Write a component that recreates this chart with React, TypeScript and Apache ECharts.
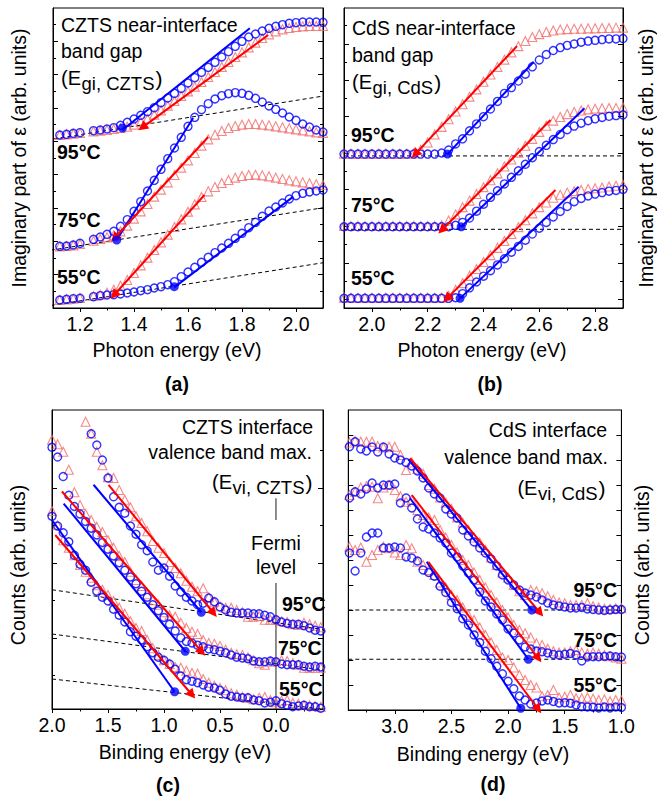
import React, { useEffect, useRef } from "react";
import * as echarts from "echarts";

const FONT = '"Liberation Sans", Arial, Helvetica, sans-serif';
const FS = 19.5;
const SUBFS = 18.5;
const BLUE = "#0000ff";
const RED = "#ff0000";
const PINK = "#f36b6b";

// ---------- Panel (a): CZTS near-interface band gap ----------
const A_E = [1.125, 1.15, 1.175, 1.2, 1.25, 1.275, 1.3, 1.325, 1.35, 1.375, 1.4, 1.425, 1.45, 1.475, 1.5, 1.525, 1.55, 1.575, 1.6, 1.625, 1.65, 1.675, 1.7, 1.725, 1.75, 1.775, 1.8, 1.825, 1.85, 1.875, 1.9, 1.925, 1.95, 1.975, 2.0, 2.025, 2.05, 2.075, 2.1];
const A95c = [5.19, 5.21, 5.24, 5.26, 5.32, 5.34, 5.37, 5.41, 5.48, 5.57, 5.67, 5.78, 5.89, 6.01, 6.16, 6.30, 6.44, 6.59, 6.75, 6.91, 7.07, 7.22, 7.37, 7.53, 7.69, 7.85, 8.00, 8.13, 8.22, 8.31, 8.39, 8.45, 8.50, 8.54, 8.56, 8.58, 8.58, 8.58, 8.57];
const A95t = [5.19, 5.21, 5.23, 5.25, 5.30, 5.32, 5.34, 5.37, 5.40, 5.44, 5.50, 5.58, 5.68, 5.80, 5.93, 6.07, 6.21, 6.36, 6.50, 6.64, 6.78, 6.93, 7.08, 7.23, 7.38, 7.53, 7.67, 7.82, 7.96, 8.10, 8.21, 8.30, 8.36, 8.40, 8.43, 8.45, 8.46, 8.46, 8.46];
const A75c = [1.85, 1.86, 1.89, 1.94, 2.06, 2.13, 2.21, 2.30, 2.45, 2.65, 2.90, 3.19, 3.51, 3.83, 4.16, 4.48, 4.80, 5.12, 5.45, 5.72, 5.95, 6.13, 6.27, 6.37, 6.43, 6.46, 6.44, 6.38, 6.29, 6.18, 6.06, 5.96, 5.85, 5.73, 5.63, 5.52, 5.43, 5.34, 5.28];
const A75t = [1.85, 1.86, 1.88, 1.92, 2.02, 2.07, 2.12, 2.18, 2.30, 2.47, 2.68, 2.90, 3.12, 3.34, 3.55, 3.77, 3.99, 4.21, 4.43, 4.65, 4.87, 5.06, 5.20, 5.31, 5.40, 5.46, 5.50, 5.52, 5.52, 5.50, 5.48, 5.45, 5.42, 5.39, 5.36, 5.33, 5.30, 5.27, 5.25];
const A55c = [0.24, 0.26, 0.28, 0.29, 0.34, 0.37, 0.39, 0.40, 0.42, 0.45, 0.48, 0.52, 0.55, 0.60, 0.64, 0.70, 0.79, 0.94, 1.08, 1.22, 1.37, 1.52, 1.66, 1.80, 1.94, 2.09, 2.24, 2.41, 2.57, 2.75, 2.91, 3.03, 3.15, 3.27, 3.37, 3.44, 3.48, 3.51, 3.54];
const A55t = [0.24, 0.26, 0.28, 0.30, 0.36, 0.40, 0.46, 0.55, 0.67, 0.84, 1.05, 1.28, 1.51, 1.74, 1.97, 2.20, 2.43, 2.66, 2.89, 3.11, 3.33, 3.50, 3.63, 3.75, 3.84, 3.91, 3.96, 3.99, 4.00, 3.98, 3.95, 3.91, 3.87, 3.83, 3.80, 3.77, 3.74, 3.71, 3.69];
const A_FIT_BLUE = [[1.357, 5.34, 1.829, 8.39], [1.336, 2.04, 1.619, 5.70], [1.549, 0.62, 1.990, 3.34]];
const A_FIT_RED = [[1.897, 8.19, 1.431, 5.42], [1.675, 5.13, 1.328, 2.10], [1.661, 3.39, 1.326, 0.39]];
const A_BASE = [[1.0, 4.94, 2.11, 6.37], [1.04, 1.67, 2.11, 3.02], [1.04, 0.01, 2.11, 1.37]];
const A_DOTS = [[1.357, 5.40], [1.336, 2.04], [1.549, 0.64]];
const A_X_MAJOR = [1.2, 1.4, 1.6, 1.8, 2.0];
const A_X_MINOR = [1.3, 1.5, 1.7, 1.9];
const A_Y_MAJOR = [1, 2, 3, 4, 5, 6, 7, 8];
const A_Y_MINOR = [0.5, 1.5, 2.5, 3.5, 4.5, 5.5, 6.5, 7.5, 8.5];

// ---------- Panel (b): CdS near-interface band gap ----------
const B_E = [1.9, 1.925, 1.95, 1.975, 2.0, 2.025, 2.05, 2.075, 2.1, 2.125, 2.15, 2.175, 2.2, 2.225, 2.25, 2.275, 2.3, 2.325, 2.35, 2.375, 2.4, 2.425, 2.45, 2.475, 2.5, 2.525, 2.55, 2.575, 2.6, 2.625, 2.65, 2.675, 2.7, 2.725, 2.75, 2.775, 2.8, 2.825, 2.85, 2.875, 2.9];
const B95c = [4.18, 4.18, 4.18, 4.18, 4.18, 4.18, 4.18, 4.18, 4.18, 4.18, 4.18, 4.18, 4.18, 4.18, 4.21, 4.29, 4.46, 4.60, 4.82, 5.01, 5.21, 5.42, 5.63, 5.85, 6.01, 6.19, 6.38, 6.58, 6.77, 6.92, 7.03, 7.11, 7.17, 7.21, 7.26, 7.29, 7.31, 7.33, 7.35, 7.35, 7.36];
const B95t = [4.19, 4.19, 4.19, 4.19, 4.19, 4.19, 4.19, 4.19, 4.19, 4.19, 4.20, 4.30, 4.50, 4.72, 4.93, 5.14, 5.35, 5.55, 5.76, 5.96, 6.17, 6.37, 6.58, 6.78, 6.98, 7.15, 7.29, 7.40, 7.48, 7.54, 7.58, 7.61, 7.62, 7.63, 7.63, 7.64, 7.64, 7.65, 7.65, 7.66, 7.66];
const B75c = [2.18, 2.18, 2.18, 2.18, 2.18, 2.18, 2.18, 2.18, 2.18, 2.18, 2.18, 2.18, 2.18, 2.18, 2.18, 2.18, 2.22, 2.30, 2.42, 2.61, 2.80, 2.99, 3.17, 3.36, 3.54, 3.72, 3.90, 4.08, 4.25, 4.42, 4.58, 4.72, 4.85, 4.95, 5.03, 5.10, 5.15, 5.19, 5.22, 5.24, 5.26];
const B75t = [2.20, 2.20, 2.20, 2.20, 2.20, 2.20, 2.20, 2.20, 2.20, 2.20, 2.20, 2.20, 2.20, 2.20, 2.22, 2.35, 2.52, 2.72, 2.90, 3.08, 3.27, 3.46, 3.65, 3.84, 4.03, 4.22, 4.41, 4.60, 4.79, 4.96, 5.10, 5.20, 5.28, 5.34, 5.38, 5.41, 5.43, 5.44, 5.45, 5.45, 5.46];
const B55c = [0.21, 0.21, 0.21, 0.21, 0.21, 0.21, 0.21, 0.21, 0.21, 0.21, 0.21, 0.21, 0.21, 0.21, 0.21, 0.21, 0.23, 0.34, 0.50, 0.66, 0.82, 0.97, 1.13, 1.30, 1.48, 1.64, 1.81, 1.98, 2.14, 2.30, 2.45, 2.60, 2.74, 2.87, 2.96, 3.03, 3.08, 3.12, 3.16, 3.18, 3.21];
const B55t = [0.23, 0.23, 0.23, 0.23, 0.23, 0.23, 0.23, 0.23, 0.23, 0.23, 0.23, 0.23, 0.23, 0.23, 0.23, 0.28, 0.44, 0.63, 0.83, 1.02, 1.21, 1.40, 1.60, 1.79, 1.98, 2.17, 2.36, 2.55, 2.72, 2.85, 2.98, 3.06, 3.12, 3.16, 3.19, 3.22, 3.24, 3.26, 3.29, 3.31, 3.33];
const B_FIT_BLUE = [[2.271, 4.18, 2.580, 6.72], [2.320, 2.18, 2.762, 5.44], [2.316, 0.21, 2.741, 3.28]];
const B_FIT_RED = [[2.520, 7.15, 2.155, 4.18], [2.640, 5.12, 2.251, 2.09], [2.658, 3.19, 2.269, 0.21]];
const B_BASE = [[1.9, 4.13, 2.9, 4.13], [1.9, 2.11, 2.9, 2.11]];
const B_DOTS = [[2.271, 4.18], [2.320, 2.18], [2.316, 0.21]];
const B_X_MAJOR = [2.0, 2.2, 2.4, 2.6, 2.8];
const B_X_MINOR = [2.1, 2.3, 2.5, 2.7];
const B_Y_MAJOR = [0.18, 1.19, 2.19, 3.2, 4.2, 5.21, 6.21, 7.21];
const B_Y_MINOR = [0.69, 1.69, 2.7, 3.7, 4.71, 5.71, 6.71, 7.72];

// ---------- Panel (c): CZTS interface valence band max ----------
const C_E = [2.0, 1.95, 1.9, 1.85, 1.8, 1.75, 1.7, 1.65, 1.6, 1.55, 1.5, 1.45, 1.4, 1.35, 1.3, 1.25, 1.2, 1.15, 1.1, 1.05, 1.0, 0.95, 0.9, 0.85, 0.8, 0.75, 0.7, 0.65, 0.6, 0.55, 0.5, 0.45, 0.4, 0.35, 0.3, 0.25, 0.2, 0.15, 0.1, 0.05, 0.0, -0.05, -0.1, -0.15, -0.2, -0.25, -0.3, -0.35, -0.4];
const C95c = [null, null, null, null, null, null, null, 3.67, 3.52, 3.32, 3.08, 2.83, 2.69, 2.61, 2.44, 2.33, 2.19, 2.11, 1.96, 1.85, 1.88, 1.77, 1.64, 1.56, 1.49, 1.44, 1.39, 1.41, 1.48, 1.43, 1.36, 1.32, 1.29, 1.28, 1.28, 1.28, 1.27, 1.27, 1.25, 1.23, 1.19, 1.16, 1.14, 1.13, 1.13, 1.11, 1.08, 1.05, 1.04];
const C95t = [null, null, null, null, null, null, 3.83, 3.67, 3.43, 3.25, 3.09, 3.08, 2.92, 2.79, 2.69, 2.57, 2.48, 2.37, 2.24, 2.15, 2.08, 1.96, 1.88, 1.81, 1.71, 1.63, 1.57, 1.61, 1.49, 1.43, 1.37, 1.35, 1.35, 1.32, 1.29, 1.23, 1.23, 1.24, 1.19, 1.19, 1.19, 1.17, 1.16, 1.13, 1.12, 1.15, 1.13, 1.11, 1.09];
const C75c = [3.49, 3.36, 3.10, 2.85, 2.70, 2.60, 2.50, 2.41, 2.32, 2.22, 2.13, 2.04, 1.95, 1.85, 1.76, 1.67, 1.57, 1.49, 1.39, 1.31, 1.22, 1.13, 1.04, 0.95, 0.90, 0.88, 0.85, 0.83, 0.80, 0.79, 0.77, 0.75, 0.72, 0.69, 0.68, 0.67, 0.64, 0.63, 0.63, 0.64, 0.63, 0.60, 0.59, 0.59, 0.59, 0.57, 0.56, 0.57, 0.56];
const C75t = [3.59, 3.53, 3.43, 3.19, 2.89, 2.72, 2.60, 2.52, 2.43, 2.36, 2.25, 2.15, 2.04, 1.96, 1.83, 1.72, 1.64, 1.53, 1.45, 1.39, 1.29, 1.25, 1.23, 1.15, 1.08, 1.03, 1.00, 0.92, 0.88, 0.87, 0.84, 0.79, 0.75, 0.73, 0.72, 0.69, 0.65, 0.61, 0.59, 0.63, 0.64, 0.65, 0.64, 0.61, 0.59, 0.55, 0.55, 0.55, 0.55];
const C55c = [2.57, 2.44, 2.35, 2.23, 2.05, 1.93, 1.85, 1.69, 1.57, 1.49, 1.44, 1.33, 1.25, 1.16, 1.03, 0.97, 0.92, 0.83, 0.75, 0.69, 0.65, 0.60, 0.53, 0.44, 0.39, 0.37, 0.35, 0.32, 0.29, 0.28, 0.25, 0.20, 0.17, 0.16, 0.15, 0.15, 0.12, 0.11, 0.08, 0.09, 0.11, 0.07, 0.05, 0.03, 0.04, 0.05, 0.03, 0.03, 0.01];
const C55t = [2.64, 2.45, 2.25, 2.15, 2.05, 1.92, 1.83, 1.75, 1.65, 1.59, 1.52, 1.44, 1.35, 1.27, 1.17, 1.08, 1.04, 0.92, 0.81, 0.72, 0.65, 0.60, 0.56, 0.55, 0.51, 0.48, 0.47, 0.40, 0.35, 0.31, 0.28, 0.25, 0.21, 0.19, 0.16, 0.15, 0.13, 0.15, 0.16, 0.12, 0.09, 0.11, 0.12, 0.08, 0.07, 0.05, 0.05, 0.04, 0.03];
const C_FIT_BLUE = [[1.629, 2.99, 0.667, 1.29], [1.896, 2.74, 0.810, 0.77], [2.0, 2.52, 0.905, 0.23]];
const C_FIT_RED = [[1.495, 2.99, 0.557, 1.28], [1.911, 2.90, 0.661, 0.76], [1.971, 2.32, 0.750, 0.19]];
const C_BASE = [[2.0, 1.59, -0.42, 1.06], [2.0, 1.00, -0.42, 0.52], [2.0, 0.40, -0.42, 0.0]];
const C_DOTS = [[0.667, 1.29], [0.810, 0.77], [0.905, 0.23]];
const C_FERMI = [[0, 0, 0, 1.68], [0, 2.52, 0, 2.81]];
const C_X_MAJOR = [2.0, 1.5, 1.0, 0.5, 0.0];
const C_X_MINOR = [1.75, 1.25, 0.75, 0.25, -0.25];
const C_Y_MAJOR = [0.95, 1.95, 2.95];
const C_Y_MINOR = [0.45, 1.45, 2.45, 3.45];

// ---------- Panel (d): CdS interface valence band max ----------
const D_E = [3.4, 3.35, 3.3, 3.25, 3.2, 3.15, 3.1, 3.05, 3.0, 2.95, 2.9, 2.85, 2.8, 2.75, 2.7, 2.65, 2.6, 2.55, 2.5, 2.45, 2.4, 2.35, 2.3, 2.25, 2.2, 2.15, 2.1, 2.05, 2.0, 1.95, 1.9, 1.85, 1.8, 1.75, 1.7, 1.65, 1.6, 1.55, 1.5, 1.45, 1.4, 1.35, 1.3, 1.25, 1.2, 1.15, 1.1, 1.05, 1.0];
const D95c = [10.53, 10.73, 10.44, 10.36, 10.52, 10.32, 10.52, 10.24, 10.08, 10.00, 9.90, 9.76, 9.56, 9.28, 8.88, 8.64, 8.48, 8.04, 7.84, 7.68, 7.20, 6.96, 6.72, 6.48, 6.28, 6.04, 5.76, 5.40, 5.20, 5.00, 4.80, 4.68, 4.60, 4.52, 4.40, 4.28, 4.20, 4.16, 4.12, 4.08, 4.08, 4.10, 4.04, 4.02, 4.00, 3.98, 4.00, 4.02, 4.02];
const D95t = [10.70, 10.77, 10.73, 10.73, 10.73, 10.56, 10.50, 10.53, 10.53, 10.20, 9.60, 9.90, 9.65, 9.45, 9.00, 8.85, 8.50, 8.30, 8.04, 7.70, 7.50, 7.20, 6.90, 6.70, 6.40, 6.10, 5.80, 5.50, 5.30, 5.00, 4.75, 4.60, 4.80, 4.75, 4.67, 4.55, 4.40, 4.30, 4.27, 4.20, 4.20, 4.20, 4.27, 4.15, 4.10, 4.05, 4.05, 4.07, 4.07];
const D75c = [8.48, 8.73, 8.64, 8.84, 9.08, 8.88, 9.00, 9.00, 9.04, 8.28, 8.48, 8.08, 7.64, 7.32, 7.24, 7.08, 6.88, 6.68, 6.28, 6.12, 5.76, 5.48, 5.20, 4.72, 4.36, 4.12, 3.84, 3.60, 3.24, 3.08, 2.80, 2.52, 2.44, 2.36, 2.33, 2.28, 2.22, 2.20, 2.23, 2.26, 2.20, 1.96, 2.12, 2.13, 2.13, 2.14, 2.16, 2.13, 2.12];
const D75t = [8.60, 8.73, 8.90, 8.95, 8.93, 8.47, 8.90, 9.00, 8.80, 8.55, 8.33, 8.40, 8.00, 7.80, 7.70, 7.60, 7.20, 6.90, 6.60, 6.30, 6.00, 5.80, 5.50, 5.20, 4.90, 4.60, 4.30, 4.00, 3.70, 3.40, 3.20, 3.07, 2.90, 2.67, 2.60, 2.45, 2.35, 2.30, 2.30, 2.35, 2.40, 2.30, 2.25, 2.30, 2.25, 2.20, 2.15, 2.10, 2.05];
const D55c = [6.28, 5.56, 6.28, 6.92, 7.08, 7.08, 6.48, 6.48, 6.52, 6.48, 6.12, 6.08, 5.96, 5.60, 5.50, 5.35, 4.95, 4.70, 4.30, 4.05, 3.65, 3.40, 3.00, 2.70, 2.35, 2.05, 1.75, 1.45, 1.15, 0.85, 0.56, 0.40, 0.24, 0.28, 0.36, 0.40, 0.34, 0.28, 0.29, 0.27, 0.20, 0.13, 0.12, 0.11, 0.08, 0.12, 0.08, 0.12, 0.10];
const D55t = [6.53, 6.40, 6.50, 5.93, 6.20, 6.40, 6.53, 6.47, 6.30, 6.20, 6.60, 6.47, 5.93, 5.80, 5.60, 5.40, 5.10, 4.90, 4.60, 4.40, 4.10, 3.80, 3.60, 3.30, 3.00, 2.70, 2.40, 2.10, 2.00, 1.70, 1.40, 1.20, 1.00, 0.90, 0.55, 0.60, 0.80, 0.50, 0.53, 0.60, 0.47, 0.47, 0.50, 0.45, 0.40, 0.42, 0.35, 0.40, 0.38];
const D_FIT_BLUE = [[2.880, 10.03, 1.791, 4.0], [2.865, 8.47, 1.821, 2.03], [2.718, 5.93, 1.888, 0.07]];
const D_FIT_RED = [[2.865, 10.07, 1.718, 3.89], [2.850, 8.60, 1.733, 2.07], [2.704, 5.93, 1.733, 0.03]];
const D_BASE = [[3.41, 4.0, 1.0, 4.0], [3.41, 2.03, 1.0, 2.03]];
const D_DOTS = [[1.791, 4.0], [1.821, 2.03], [1.888, 0.07]];
const D_X_MAJOR = [3.0, 2.5, 2.0, 1.5, 1.0];
const D_X_MINOR = [3.25, 2.75, 2.25, 1.75, 1.25];
const D_Y_MAJOR = [1, 2, 3, 4, 5, 6, 7, 8, 9, 10, 11];

// ---------- helpers ----------
let measureCtx: CanvasRenderingContext2D | null = null;
function textWidth(t: string, size: number, weight = "normal") {
  if (!measureCtx) {
    const c = document.createElement("canvas");
    measureCtx = c.getContext("2d");
  }
  if (!measureCtx) return t.length * size * 0.55;
  measureCtx.font = `${weight} ${size}px ${FONT}`;
  return measureCtx.measureText(t).width;
}

function T(text: string, x: number, y: number, o: any = {}) {
  return {
    type: "text",
    x,
    y,
    rotation: o.rotation || 0,
    silent: true,
    z: 100,
    style: {
      text,
      fill: "#000",
      fontFamily: FONT,
      fontSize: o.size || FS,
      fontWeight: o.bold ? "bold" : "normal",
      align: o.align || "left",
      verticalAlign: "middle",
    },
  };
}

function subLabel(x: number, y: number, sub: string, right: boolean) {
  const w1 = textWidth("(E", FS + 0.5);
  const w2 = textWidth(sub, SUBFS);
  const w3 = textWidth(")", FS + 1.5);
  const total = w1 + w2 + w3 + 2;
  const x0 = right ? x - total : x;
  return [
    T("(E", x0, y, { size: FS + 0.5 }),
    T(sub, x0 + w1 + 0.5, y + 5, { size: SUBFS }),
    T(")", x0 + w1 + w2 + 1.5, y, { size: FS + 1.5 }),
  ];
}

const fmt = (v: number) => (Math.abs(v) < 1e-9 ? 0 : v).toFixed(1);

function xAxes(gi: number, min: number, max: number, inverse: boolean, majors: number[], minors: number[]) {
  const base = { type: "value", gridIndex: gi, min, max, inverse, position: "bottom", splitLine: { show: false } };
  return [
    {
      ...base,
      axisLine: { show: true, onZero: false, lineStyle: { color: "#000", width: 1 } },
      axisTick: { show: true, inside: false, length: 4, customValues: majors, lineStyle: { color: "#000", width: 1 } },
      axisLabel: { show: true, customValues: majors, formatter: fmt, color: "#000", fontSize: FS, fontFamily: FONT, margin: 6 },
    },
    {
      ...base,
      axisLine: { show: false, onZero: false },
      axisTick: { show: true, inside: false, length: 2.5, customValues: minors, lineStyle: { color: "#000", width: 1 } },
      axisLabel: { show: false },
    },
  ];
}

function yAxes(gi: number, min: number, max: number, majors: number[], minors: number[]) {
  const mk = (pos: string, vals: number[], len: number, line: boolean) => ({
    type: "value",
    gridIndex: gi,
    min,
    max,
    position: pos,
    splitLine: { show: false },
    axisLine: { show: line, onZero: false, lineStyle: { color: "#000", width: 1 } },
    axisTick: { show: vals.length > 0, inside: true, length: len, customValues: vals, lineStyle: { color: "#000", width: 1 } },
    axisLabel: { show: false },
  });
  return [mk("left", majors, 5, true), mk("left", minors, 3, false), mk("right", majors, 5, true), mk("right", minors, 3, false)];
}

function scatter(gi: number, E: number[], Y: (number | null)[], circle: boolean) {
  const data: number[][] = [];
  E.forEach((e, i) => {
    const v = Y[i];
    if (v !== null && v !== undefined) data.push([e, v]);
  });
  return {
    type: "scatter",
    xAxisIndex: gi * 2,
    yAxisIndex: gi * 4,
    data,
    symbol: circle ? "circle" : "triangle",
    symbolSize: circle ? 8 : 9,
    itemStyle: { color: "transparent", borderColor: circle ? BLUE : PINK, borderWidth: circle ? 1.4 : 1.1 },
    silent: true,
    z: circle ? 3 : 2,
  };
}

function segLine(gi: number, s: number[], style: any, z: number, clip = true) {
  return {
    type: "line",
    xAxisIndex: gi * 2,
    yAxisIndex: gi * 4,
    data: [[s[0], s[1]], [s[2], s[3]]],
    symbol: "none",
    showSymbol: false,
    lineStyle: style,
    silent: true,
    clip,
    z,
  };
}

function arrows(gi: number, segs: number[][]) {
  return {
    type: "lines",
    coordinateSystem: "cartesian2d",
    xAxisIndex: gi * 2,
    yAxisIndex: gi * 4,
    data: segs.map((s) => ({ coords: [[s[0], s[1]], [s[2], s[3]]] })),
    symbol: ["none", "triangle"],
    symbolSize: 10,
    lineStyle: { color: RED, width: 2, opacity: 1 },
    silent: true,
    clip: false,
    z: 6,
  };
}

function dots(gi: number, pts: number[][]) {
  return {
    type: "scatter",
    xAxisIndex: gi * 2,
    yAxisIndex: gi * 4,
    data: pts,
    symbol: "circle",
    symbolSize: 9,
    itemStyle: { color: BLUE },
    silent: true,
    z: 7,
  };
}

const DASH = { color: "#000", width: 1, type: [4, 3] };
const BLUEFIT = { color: BLUE, width: 2 };

function panelSeries(gi: number, E: number[], sets: (number | null)[][], fitsBlue: number[][], fitsRed: number[][], bases: number[][], pts: number[][], clipBase: boolean) {
  const s: any[] = [];
  bases.forEach((b) => s.push(segLine(gi, b, DASH, 1, clipBase)));
  s.push(scatter(gi, E, sets[1], false));
  s.push(scatter(gi, E, sets[3], false));
  s.push(scatter(gi, E, sets[5], false));
  s.push(scatter(gi, E, sets[0], true));
  s.push(scatter(gi, E, sets[2], true));
  s.push(scatter(gi, E, sets[4], true));
  fitsBlue.forEach((f) => s.push(segLine(gi, f, BLUEFIT, 5)));
  s.push(arrows(gi, fitsRed));
  s.push(dots(gi, pts));
  return s;
}

export default function App() {
  const ref = useRef<HTMLDivElement>(null);
  useEffect(() => {
    if (!ref.current) return;
    const chart = echarts.init(ref.current, undefined, { renderer: "svg" });

    const graphics: any[] = [
      // panel a
      T("CZTS near-interface", 61, 25),
      T("band gap", 61, 51),
      ...subLabel(61, 78, "gi, CZTS", false),
      T("95°C", 57, 152, { bold: true }),
      T("75°C", 57, 220, { bold: true }),
      T("55°C", 57, 277, { bold: true }),
      T("Photon energy (eV)", 177, 350, { align: "center" }),
      T("(a)", 177, 384, { align: "center", bold: true }),
      T("Imaginary part of ε (arb. units)", 19, 158, { align: "center", rotation: Math.PI / 2 }),
      // panel b
      T("CdS near-interface", 352, 28),
      T("band gap", 352, 55),
      ...subLabel(352, 82, "gi, CdS", false),
      T("95°C", 351, 135, { bold: true }),
      T("75°C", 351, 205, { bold: true }),
      T("55°C", 351, 278, { bold: true }),
      T("Photon energy (eV)", 482, 350, { align: "center" }),
      T("(b)", 490, 384, { align: "center", bold: true }),
      T("Imaginary part of ε (arb. units)", 646, 158, { align: "center", rotation: Math.PI / 2 }),
      // panel c
      T("CZTS interface", 313, 427, { align: "right" }),
      T("valence band max.", 312, 452, { align: "right" }),
      ...subLabel(313, 482, "vi, CZTS", true),
      T("Fermi", 276, 543, { align: "center" }),
      T("level", 276, 567, { align: "center" }),
      T("95°C", 282, 604, { bold: true }),
      T("75°C", 278, 648, { bold: true }),
      T("55°C", 279, 689, { bold: true }),
      T("Binding energy (eV)", 185, 752, { align: "center" }),
      T("(c)", 168, 785, { align: "center", bold: true }),
      T("Counts (arb. units)", 18, 565, { align: "center", rotation: Math.PI / 2 }),
      // panel d
      T("CdS interface", 607, 430, { align: "right" }),
      T("valence band max.", 608, 457, { align: "right" }),
      ...subLabel(606, 488, "vi, CdS", true),
      T("95°C", 617, 590, { align: "right", bold: true }),
      T("75°C", 617, 640, { align: "right", bold: true }),
      T("55°C", 617, 685, { align: "right", bold: true }),
      T("Binding energy (eV)", 483, 754, { align: "center" }),
      T("(d)", 493, 784, { align: "center", bold: true }),
      T("Counts (arb. units)", 642, 565, { align: "center", rotation: Math.PI / 2 }),
    ];

    const gridStyle = { show: true, borderColor: "#000", borderWidth: 1, backgroundColor: "transparent" };

    const series: any[] = [
      ...panelSeries(0, A_E, [A95c, A95t, A75c, A75t, A55c, A55t], A_FIT_BLUE, A_FIT_RED, A_BASE, A_DOTS, false),
      ...panelSeries(1, B_E, [B95c, B95t, B75c, B75t, B55c, B55t], B_FIT_BLUE, B_FIT_RED, B_BASE, B_DOTS, true),
      ...panelSeries(2, C_E, [C95c, C95t, C75c, C75t, C55c, C55t], C_FIT_BLUE, C_FIT_RED, C_BASE, C_DOTS, true),
      ...C_FERMI.map((f) => segLine(2, f, { color: "#444", width: 1.2 }, 1)),
      ...panelSeries(3, D_E, [D95c, D95t, D75c, D75t, D55c, D55t], D_FIT_BLUE, D_FIT_RED, D_BASE, D_DOTS, true),
    ];

    chart.setOption({
      animation: false,
      backgroundColor: "#fff",
      textStyle: { fontFamily: FONT },
      grid: [
        { ...gridStyle, left: 53, top: 8, width: 270, height: 300 },
        { ...gridStyle, left: 344, top: 8, width: 279, height: 300 },
        { ...gridStyle, left: 52, top: 410, width: 271, height: 299 },
        { ...gridStyle, left: 348.3, top: 410, width: 273.1, height: 300 },
      ],
      xAxis: [
        ...xAxes(0, 1.1, 2.1, false, A_X_MAJOR, A_X_MINOR),
        ...xAxes(1, 1.9, 2.9, false, B_X_MAJOR, B_X_MINOR),
        ...xAxes(2, -0.42, 2.0, true, C_X_MAJOR, C_X_MINOR),
        ...xAxes(3, 1.0, 3.41, true, D_X_MAJOR, D_X_MINOR),
      ],
      yAxis: [
        ...yAxes(0, 0, 9, A_Y_MAJOR, A_Y_MINOR),
        ...yAxes(1, -0.055, 8.2, B_Y_MAJOR, B_Y_MINOR),
        ...yAxes(2, 0, 3.987, C_Y_MAJOR, C_Y_MINOR),
        ...yAxes(3, 0, 12, D_Y_MAJOR, []),
      ],
      series,
      graphic: graphics,
    });
    return () => chart.dispose();
  }, []);

  return <div ref={ref} style={{ position: "fixed", left: 0, top: 0, width: 657, height: 798, background: "#fff" }} />;
}
